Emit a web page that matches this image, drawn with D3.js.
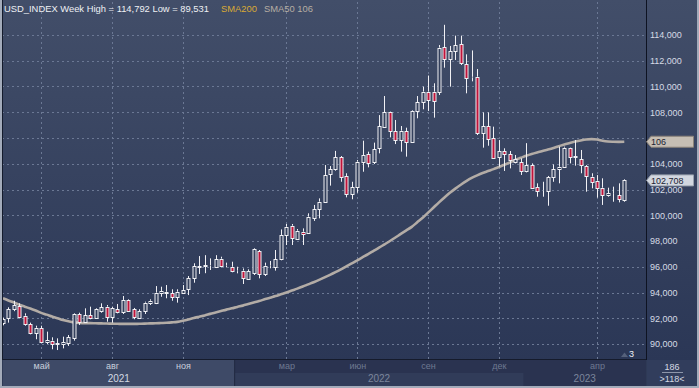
<!DOCTYPE html>
<html>
<head>
<meta charset="utf-8">
<script src="https://cdn.jsdelivr.net/npm/d3@7"></script>
<style>
  body { margin: 0; background: #2e3a56; }
  svg { display: block; font-family: "Liberation Sans", Arial, sans-serif; }
</style>
</head>
<body>
<div id="chart"></div>
<script>
// weekly bars (dd.mm.yy), one extra short bar at each year end
const weeks = [
  "15.03.21","22.03.21","29.03.21","05.04.21","12.04.21","19.04.21","26.04.21","03.05.21","10.05.21","17.05.21",
  "24.05.21","31.05.21","07.06.21","14.06.21","21.06.21","28.06.21","05.07.21","12.07.21","19.07.21","26.07.21",
  "02.08.21","09.08.21","16.08.21","23.08.21","30.08.21","06.09.21","13.09.21","20.09.21","27.09.21","04.10.21",
  "11.10.21","18.10.21","25.10.21","01.11.21","08.11.21","15.11.21","22.11.21","29.11.21","06.12.21","13.12.21",
  "20.12.21","27.12.21","31.12.21","03.01.22","10.01.22","17.01.22","24.01.22","31.01.22","07.02.22","14.02.22",
  "21.02.22","28.02.22","07.03.22","14.03.22","21.03.22","28.03.22","04.04.22","11.04.22","18.04.22","25.04.22",
  "02.05.22","09.05.22","16.05.22","23.05.22","30.05.22","06.06.22","13.06.22","20.06.22","27.06.22","04.07.22",
  "11.07.22","18.07.22","25.07.22","01.08.22","08.08.22","15.08.22","22.08.22","29.08.22","05.09.22","12.09.22",
  "19.09.22","26.09.22","03.10.22","10.10.22","17.10.22","24.10.22","31.10.22","07.11.22","14.11.22","21.11.22",
  "28.11.22","05.12.22","12.12.22","19.12.22","26.12.22","30.12.22","02.01.23","09.01.23","16.01.23","23.01.23",
  "30.01.23","06.02.23","13.02.23","20.02.23","27.02.23","06.03.23","13.03.23","20.03.23","27.03.23","03.04.23",
  "10.04.23","17.04.23","24.04.23","01.05.23","08.05.23"
];

const opens = [
  91.61,92.04,92.70,92.95,92.20,91.55,90.83,91.22,90.18,90.26,
  90.03,89.98,90.11,90.44,92.33,91.73,92.25,92.04,92.56,92.90,
  92.07,92.72,92.46,93.42,92.70,92.04,92.59,93.16,93.21,93.99,
  94.06,93.94,93.63,94.00,94.25,95.10,96.00,96.06,96.10,96.01,
  96.63,96.10,96.00,95.66,95.70,95.05,95.49,97.22,95.41,96.05,
  96.01,96.58,98.47,99.19,98.13,98.72,98.60,99.81,100.49,101.06,
  103.18,103.59,104.50,103.05,101.62,102.17,104.16,104.76,104.11,105.20,
  106.88,107.99,106.54,105.84,106.54,105.71,108.10,108.77,109.60,109.60,
  109.55,113.04,112.11,112.76,113.30,111.72,110.75,110.76,106.36,106.93,
  105.97,104.55,104.99,104.73,104.16,104.11,103.44,103.90,102.17,101.94,
  101.91,102.94,103.59,103.77,105.20,104.57,104.34,103.83,103.00,102.68,
  102.14,101.57,101.66,101.57,101.18
];
const highs = [
  92.05,92.85,93.36,93.16,92.38,91.66,91.42,91.42,90.96,90.52,
  90.44,90.57,90.70,92.38,92.43,92.77,92.90,92.77,93.16,93.03,
  92.90,93.11,93.73,93.47,92.80,92.70,93.29,93.47,94.50,94.45,
  94.58,94.25,94.25,94.58,95.28,96.27,96.83,96.90,96.65,96.90,
  96.78,96.32,96.39,96.00,95.87,95.80,97.43,97.30,96.32,96.45,
  97.30,98.90,99.32,99.32,98.93,98.98,100.15,100.80,101.31,103.90,
  103.82,105.00,104.60,103.26,102.60,104.29,105.79,104.94,105.64,107.78,
  109.26,108.05,107.40,106.93,106.80,108.17,109.26,109.99,110.85,110.25,
  113.22,114.792,113.15,113.95,113.95,112.50,112.80,111.36,107.99,107.99,
  106.88,105.84,105.20,104.99,104.68,104.42,105.60,104.03,102.48,102.60,
  103.05,103.95,105.33,105.33,105.25,105.84,105.07,103.90,103.26,103.12,
  102.87,102.14,102.22,102.48,102.79
];
const lows = [
  91.45,91.66,92.55,91.99,91.42,90.75,90.37,90.10,90.00,89.59,
  89.531,89.66,89.85,90.26,91.48,91.66,91.92,91.97,92.43,91.73,
  91.66,92.38,92.33,92.51,91.92,92.00,92.33,93.03,93.10,93.67,
  93.55,93.36,93.21,93.88,93.80,94.76,95.44,95.50,95.75,95.90,
  95.95,95.95,95.57,95.49,94.66,94.97,95.36,95.10,95.28,95.88,
  95.70,96.50,97.69,97.69,98.08,97.69,98.57,99.56,99.76,100.98,
  102.30,103.46,102.60,101.39,101.24,101.75,103.38,103.72,103.98,104.81,
  106.83,106.05,105.53,104.94,104.55,105.64,107.53,108.23,108.10,107.58,
  109.34,111.46,109.99,112.06,111.67,109.47,110.40,106.23,105.25,105.40,
  104.37,103.77,103.44,103.64,104.03,103.13,103.33,102.09,101.44,101.44,
  100.74,102.60,102.48,103.72,104.03,103.85,103.26,101.83,102.09,101.37,
  100.80,101.44,101.05,101.00,101.05
];
const closes = [
  91.92,92.70,93.03,92.12,91.53,90.83,91.26,90.18,90.31,90.00,
  90.06,90.13,90.52,92.33,91.73,92.25,92.04,92.70,92.85,92.07,
  92.77,92.46,93.42,92.59,92.07,92.56,93.21,93.36,93.99,94.12,
  93.94,93.63,94.06,94.20,95.10,96.06,96.06,96.11,96.13,96.58,
  96.08,96.12,95.64,95.69,95.10,95.67,97.35,95.41,96.08,96.08,
  96.58,98.47,99.11,98.21,98.80,98.52,99.89,100.49,101.06,103.13,
  103.59,104.50,103.00,101.62,102.17,104.16,104.68,104.08,105.12,106.93,
  107.99,106.54,105.84,106.57,105.69,108.12,108.77,109.60,108.95,108.90,
  113.02,112.11,112.76,113.22,111.80,110.63,110.71,106.36,106.93,105.92,
  104.47,104.99,104.73,104.29,104.34,103.44,103.90,102.14,101.91,101.96,
  102.94,103.59,103.77,105.25,104.55,104.55,103.90,103.07,102.60,102.14,
  101.57,101.70,101.65,101.26,102.708
];
// SMA50
const sma50 = [
  93.55,93.38,93.22,93.05,92.90,92.75,92.60,92.42,92.28,92.13,
  92.00,91.86,91.76,91.68,91.64,91.62,91.62,91.61,91.60,91.59,
  91.58,91.57,91.56,91.56,91.56,91.57,91.58,91.60,91.61,91.63,
  91.65,91.68,91.72,91.80,91.90,92.02,92.12,92.22,92.34,92.45,
  92.56,92.67,92.77,92.88,92.98,93.10,93.22,93.34,93.47,93.60,
  93.72,93.86,94.00,94.15,94.30,94.46,94.63,94.80,94.98,95.17,
  95.37,95.58,95.80,96.03,96.26,96.50,96.74,96.98,97.23,97.48,
  97.74,98.00,98.27,98.55,98.82,99.10,99.45,99.80,100.20,100.60,
  101.00,101.38,101.74,102.07,102.37,102.65,102.90,103.10,103.28,103.43,
  103.58,103.75,103.92,104.10,104.30,104.46,104.62,104.76,104.88,104.99,
  105.10,105.22,105.36,105.50,105.61,105.72,105.81,105.88,105.91,105.88,
  105.79,105.73,105.71,105.70,105.71
];

const yTicks = [90, 92, 94, 96, 98, 100, 102, 104, 106, 108, 110, 112, 114];
const monthBars = ["03.05.21","02.08.21","01.11.21","07.03.22","06.06.22","05.09.22","05.12.22","03.04.23"];
const monthLabels = ["май","авг","ноя","мар","июн","сен","дек","апр"];
const years = ["21", "22", "23"];
const yearLabels = ["2021", "2022", "2023"];

const W = 699, H = 388;
const plot = { left: 2, right: 645, top: 2, bottom: 359 };

const svg = d3.select('#chart').append('svg')
  .attr('width', W)
  .attr('height', H);

const defs = svg.append('defs');
const grad = defs.append('linearGradient').attr('id', 'bg').attr('x1', 0).attr('y1', 0).attr('x2', 0).attr('y2', 1);
grad.append('stop').attr('offset', 0).attr('stop-color', '#424e69');
grad.append('stop').attr('offset', 1).attr('stop-color', '#2b3756');
defs.append('clipPath').attr('id', 'clip').append('rect')
  .attr('x', plot.left).attr('y', plot.top)
  .attr('width', plot.right - plot.left).attr('height', plot.bottom - plot.top);

svg.append('rect').attr('width', W).attr('height', 360).attr('fill', 'url(#bg)');

// scales
const x = d3.scalePoint().domain(weeks).range([3, 624.3]);
const y = d3.scaleLinear().domain([90, 114]).range([344, 35]);
const fmt = v => d3.format('.3f')(v).replace('.', ',');

// grid
const grid = svg.append('g').attr('stroke', '#6b7894').attr('stroke-dasharray', '2,3').attr('stroke-width', 1);
grid.selectAll('.hg').data(yTicks).enter().append('line')
  .attr('x1', plot.left).attr('x2', plot.right)
  .attr('y1', d => Math.round(y(d)) + 0.5).attr('y2', d => Math.round(y(d)) + 0.5);
grid.selectAll('.vg').data(monthBars).enter().append('line')
  .attr('y1', plot.top).attr('y2', plot.bottom)
  .attr('x1', d => Math.round(x(d)) + 0.5).attr('x2', d => Math.round(x(d)) + 0.5);

const bars = weeks.map((w, i) => ({ w, o: opens[i], h: highs[i], l: lows[i], c: closes[i] }));

const g = svg.append('g').attr('clip-path', 'url(#clip)');

// SMA50
g.append('path')
  .datum(sma50)
  .attr('fill', 'none')
  .attr('stroke', '#b3aca6')
  .attr('stroke-width', 2.6)
  .attr('stroke-linejoin', 'round')
  .attr('d', d3.line().x((d, i) => x(weeks[i])).y(d => y(d)).curve(d3.curveMonotoneX));

// candles
const candle = g.selectAll('.candle').data(bars).enter().append('g').attr('class', 'candle');
candle.append('line')
  .attr('x1', d => Math.round(x(d.w)) + 0.5).attr('x2', d => Math.round(x(d.w)) + 0.5)
  .attr('y1', d => y(d.h)).attr('y2', d => y(Math.max(d.o, d.c)))
  .attr('stroke', '#f0f0f4');
candle.append('line')
  .attr('x1', d => Math.round(x(d.w)) + 0.5).attr('x2', d => Math.round(x(d.w)) + 0.5)
  .attr('y1', d => y(Math.min(d.o, d.c))).attr('y2', d => y(d.l))
  .attr('stroke', '#f0f0f4');
candle.append('rect')
  .attr('x', d => Math.round(x(d.w)) - 1)
  .attr('width', 3)
  .attr('y', d => Math.round(y(Math.max(d.o, d.c))) + 0.5)
  .attr('height', d => Math.max(0, Math.round(y(Math.min(d.o, d.c))) - Math.round(y(Math.max(d.o, d.c)))))
  .attr('fill', d => d.c >= d.o ? '#34405c' : '#c0143a')
  .attr('stroke', '#f0f0f4')
  .attr('stroke-width', 1);

// frame lines of the plot
svg.append('line').attr('x1', 646.5).attr('x2', 646.5).attr('y1', 0).attr('y2', 360).attr('stroke', '#0e1322');
svg.append('line').attr('x1', 2.5).attr('x2', 2.5).attr('y1', 0).attr('y2', 360).attr('stroke', '#141b2c');

// right axis (the label hidden under the SMA tag is left out, as in the original)
const smaLast = sma50[sma50.length - 1];
const yAxis = svg.append('g')
  .attr('transform', 'translate(646,0)')
  .call(d3.axisRight(y).tickValues(yTicks)
    .tickFormat(d => Math.abs(y(d) - y(smaLast)) < 9 ? '' : fmt(d))
    .tickSize(0).tickPadding(4));
yAxis.select('.domain').remove();
yAxis.selectAll('text')
  .attr('fill', '#d6dbe5')
  .style('font-size', '9px')
  .style('font-family', '"Liberation Sans", Arial, sans-serif');

// value tags
function tag(v, label, fill, stroke) {
  const cy = y(v);
  svg.append('path')
    .attr('d', `M646.5,${cy} L651,${cy - 5.5} L693.5,${cy - 5.5} L693.5,${cy + 5.5} L651,${cy + 5.5} Z`)
    .attr('fill', fill).attr('stroke', stroke);
  svg.append('text').attr('x', 651).attr('y', cy + 3.3)
    .attr('fill', '#1b2333').style('font-size', '9px').text(label);
}
tag(smaLast, d3.format('.0f')(smaLast), '#c6beb4', '#8b8379');
tag(closes[closes.length - 1], fmt(closes[closes.length - 1]), '#d2d7e0', '#98a0ae');

// header
const head = svg.append('text').attr('x', 4).attr('y', 11.5).style('font-size', '9.4px');
head.append('tspan').attr('fill', '#eef0f4')
  .text('USD_INDEX Week High = ' + fmt(d3.max(highs)) + ' Low = ' + fmt(d3.min(lows)));
head.append('tspan').attr('fill', '#d9aa35').attr('dx', 12).text('SMA200');
head.append('tspan').attr('fill', '#b6ada3').attr('dx', 7).text('SMA50 ' + d3.format('.0f')(smaLast));

// bottom time axis
const axisY = 360;
const yearBounds = years.map(yr => {
  const idx = weeks.map((w, i) => w.endsWith(yr) ? i : -1).filter(i => i >= 0);
  return { first: idx[0], last: idx[idx.length - 1] };
});
const edges = [plot.left + 1];
for (let k = 0; k < years.length - 1; k++) {
  edges.push((x(weeks[yearBounds[k].last]) + x(weeks[yearBounds[k + 1].first])) / 2);
}
edges.push(plot.right + 1);

svg.append('rect').attr('x', 3).attr('y', axisY).attr('width', 643).attr('height', 26).attr('fill', '#2a3350');
svg.append('rect').attr('x', 3).attr('y', axisY).attr('width', edges[1] - 3).attr('height', 26).attr('fill', '#3e4a67');
svg.append('rect').attr('x', edges[1]).attr('y', axisY + 13).attr('width', edges[2] - edges[1]).attr('height', 13).attr('fill', '#313c59');
svg.append('line').attr('x1', edges[1]).attr('x2', edges[1]).attr('y1', axisY).attr('y2', axisY + 26).attr('stroke', '#222a42');
svg.append('line').attr('x1', 2).attr('x2', 646).attr('y1', 359.5).attr('y2', 359.5).attr('stroke', '#151b2c');

const xAxis = svg.append('g')
  .attr('transform', `translate(0,${axisY})`)
  .call(d3.axisBottom(x).tickValues(monthBars).tickFormat((d, i) => monthLabels[i]).tickSize(0).tickPadding(3));
xAxis.select('.domain').remove();
xAxis.selectAll('text')
  .attr('fill', d => d.endsWith('21') ? '#c9d0dc' : '#6e7991')
  .style('font-size', '9px')
  .style('font-family', '"Liberation Sans", Arial, sans-serif');

svg.selectAll('.yearlab').data(yearLabels).enter().append('text')
  .attr('x', (d, i) => (edges[i] + edges[i + 1]) / 2)
  .attr('y', 382)
  .attr('text-anchor', 'middle')
  .attr('fill', (d, i) => i === 0 ? '#d3d9e3' : '#7c869c')
  .style('font-size', '10px')
  .text(d => d);

// corner box
svg.append('rect').attr('x', 647).attr('y', 360).attr('width', 50).attr('height', 26).attr('fill', '#313d5c');
svg.append('text').attr('x', 672).attr('y', 369.5).attr('text-anchor', 'middle').attr('fill', '#d4d9e2').style('font-size', '9px').text('186');
svg.append('line').attr('x1', 662).attr('x2', 683).attr('y1', 372.5).attr('y2', 372.5).attr('stroke', '#8d96aa');
svg.append('text').attr('x', 672).attr('y', 382).attr('text-anchor', 'middle').attr('fill', '#d4d9e2').style('font-size', '9px').text('>118<');

// page counter
svg.append('path').attr('d', 'M621,357 L624.5,352.5 L628,357 Z').attr('fill', '#55617b');
svg.append('text').attr('x', 629).attr('y', 357).attr('fill', '#f0f2f6').style('font-size', '9px').text('3');

// outer border
svg.append('rect').attr('x', 0).attr('y', 386).attr('width', W).attr('height', 2).attr('fill', '#a3abba');
svg.append('rect').attr('x', 0).attr('y', 0).attr('width', 2).attr('height', H).attr('fill', '#a3abba');
svg.append('rect').attr('x', W - 2).attr('y', 0).attr('width', 2).attr('height', H).attr('fill', '#a3abba');
</script>
</body>
</html>
